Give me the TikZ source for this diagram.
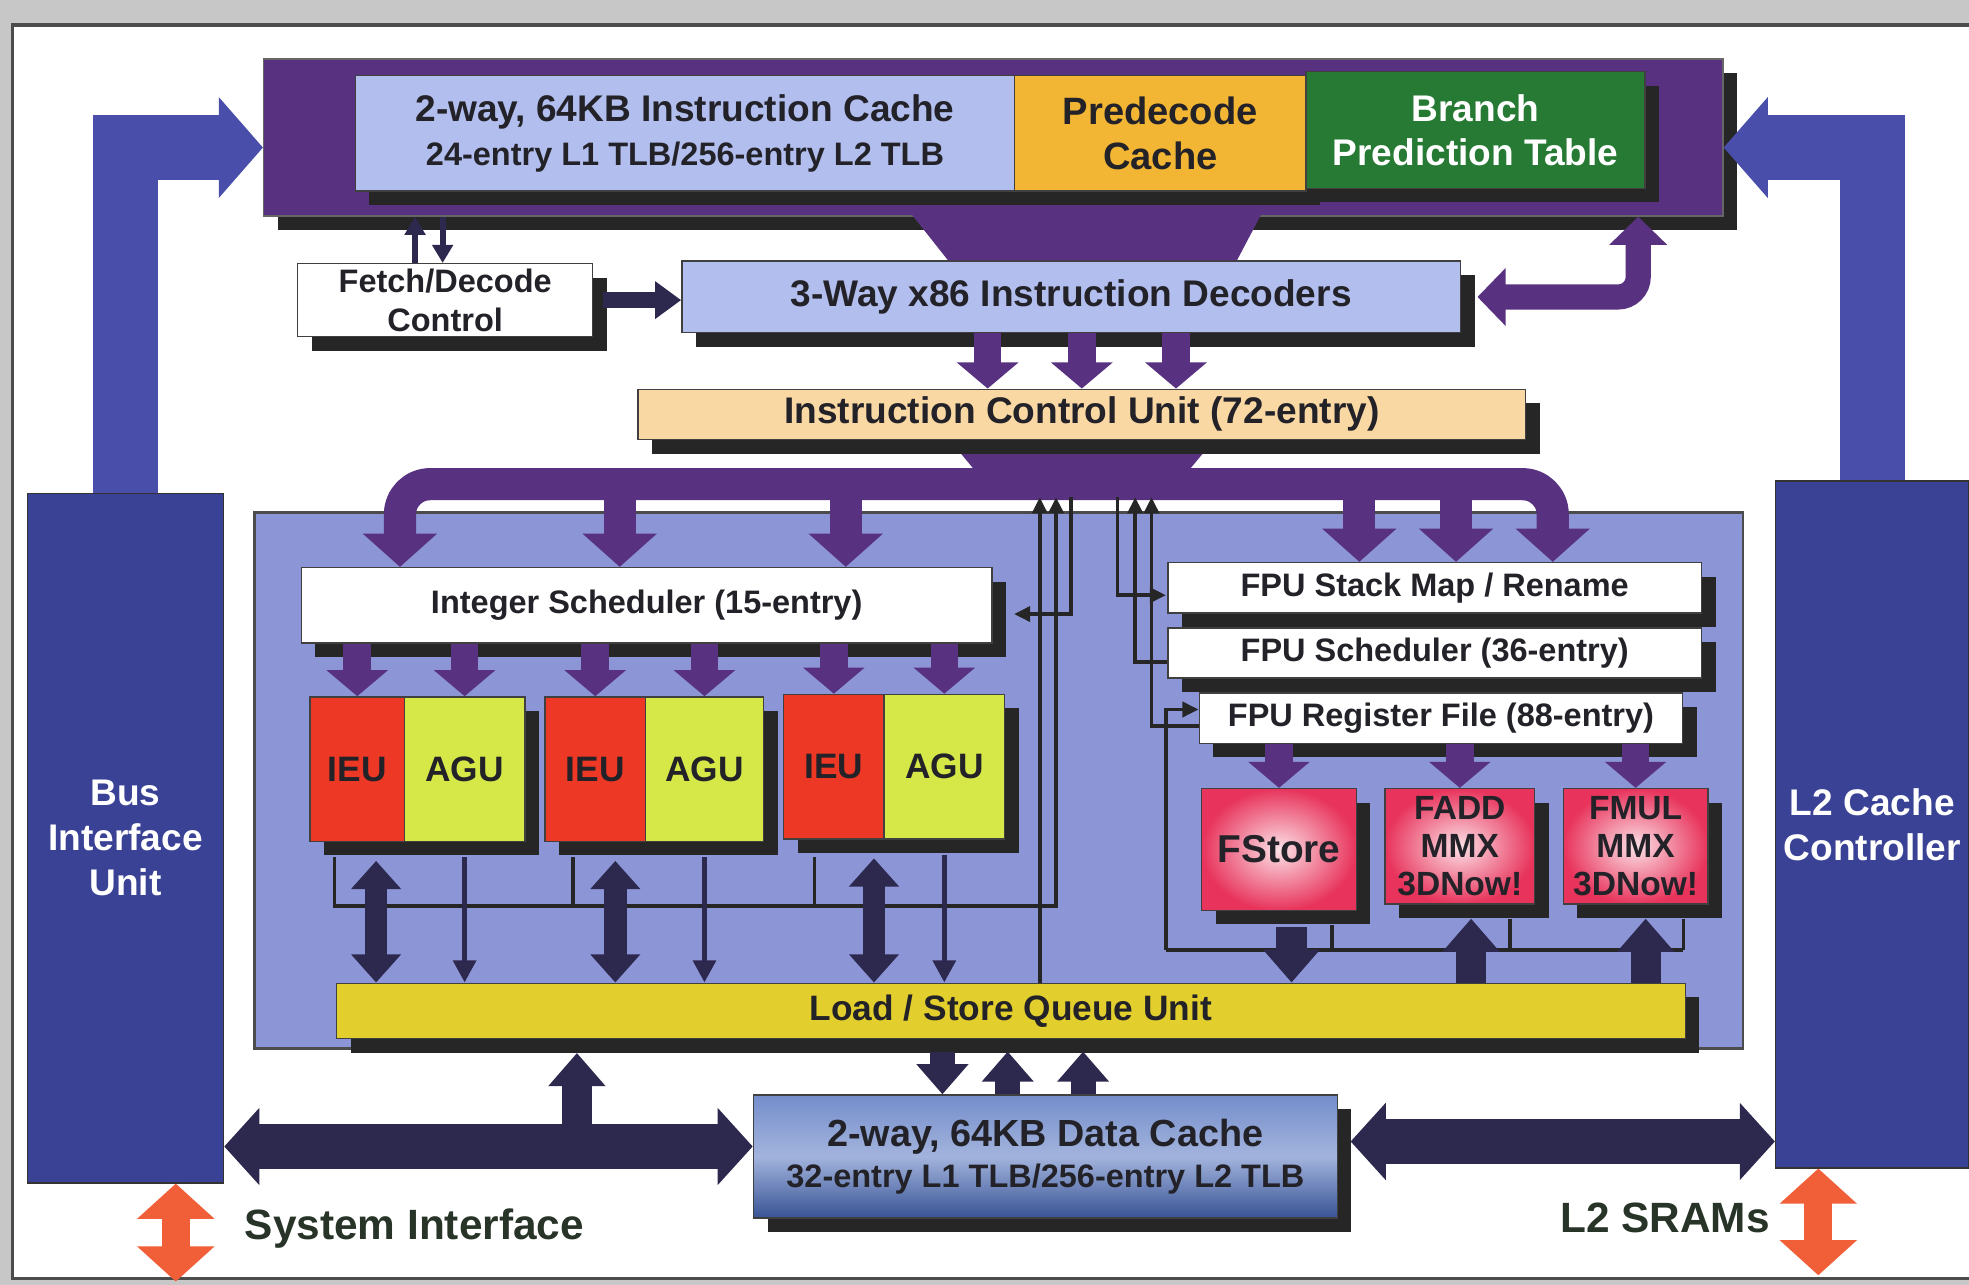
\documentclass[tikz,border=0pt]{standalone}
\usepackage{fontspec}
\setmainfont{Liberation Sans}
\usetikzlibrary{arrows.meta,calc,shadows}

\definecolor{icpurple}{RGB}{88,50,128}
\definecolor{bluebox}{RGB}{178,190,238}
\definecolor{corebg}{RGB}{140,150,215}
\definecolor{unitblue}{RGB}{58,66,150}
\definecolor{ltarrow}{RGB}{72,78,170}
\definecolor{predec}{RGB}{242,182,52}
\definecolor{bptgreen}{RGB}{38,122,52}
\definecolor{icupeach}{RGB}{250,216,164}
\definecolor{lsqyellow}{RGB}{226,206,44}
\definecolor{ieured}{RGB}{236,56,36}
\definecolor{agugreen}{RGB}{214,232,72}
\definecolor{fpred}{RGB}{232,52,92}
\definecolor{dcblue}{RGB}{70,104,186}
\definecolor{navyarrow}{RGB}{44,40,78}
\definecolor{sysorange}{RGB}{240,95,55}
\definecolor{txtdark}{RGB}{34,34,40}
\definecolor{notegreen}{RGB}{40,52,40}

\tikzset{
  box/.style={draw=black!75, line width=0.4pt, inner sep=0pt, align=center, text=txtdark,
    font=\bfseries\fontsize{10.5}{12.5}\selectfont},
  shbox/.style={box, drop shadow={shadow xshift=1.4mm, shadow yshift=-1.4mm, fill=black!85, opacity=1}},
  smallbox/.style={shbox, font=\bfseries\fontsize{9.2}{11}\selectfont},
  iobox/.style={box, fill=unitblue, draw=black!80, text=white, font=\bfseries\fontsize{10.5}{12.8}\selectfont},
  unit/.style={shbox, minimum height=14.375mm, font=\bfseries\fontsize{10}{11}\selectfont},
  fpunit/.style={shbox, inner color=fpred!15!white, outer color=fpred, font=\bfseries\fontsize{9.5}{10.7}\selectfont},
  core/.style={fill=corebg, draw=black!70, line width=0.8pt, inner sep=0pt},
  note/.style={font=\bfseries\fontsize{12}{14}\selectfont, text=notegreen},
  lblue/.style={draw=ltarrow, line width=6.5mm, line join=miter, -{Triangle[width=9.8mm,length=4.4mm]}},
  pblock/.style={draw=icpurple, line width=2.75mm, -{Triangle[width=6mm,length=2.6mm]}},
  pbig/.style={draw=icpurple, line width=3.2mm, line join=round, -{Triangle[width=7.2mm,length=3.3mm]}},
  pbus/.style={pbig, rounded corners=3mm, {Triangle[width=7.2mm,length=3.3mm]}-{Triangle[width=7.2mm,length=3.3mm]}},
  pboth/.style={draw=icpurple, line width=2.5mm, rounded corners=2mm, {Triangle[width=5.6mm,length=2.8mm]}-{Triangle[width=5.6mm,length=2.8mm]}},
  nboth/.style={draw=navyarrow, line width=2.25mm, {Triangle[width=4.8mm,length=2.8mm]}-{Triangle[width=4.8mm,length=2.8mm]}},
  nblock/.style={draw=navyarrow, line width=3mm, -{Triangle[width=5.5mm,length=3.3mm]}},
  nmid/.style={draw=navyarrow, line width=2.5mm, -{Triangle[width=5mm,length=3mm]}},
  ncon/.style={draw=navyarrow, line width=1.6mm, -{Triangle[width=3.6mm,length=2.6mm]}},
  tarrow/.style={draw=navyarrow, line width=0.55mm, -{Triangle[width=2.2mm,length=2.2mm]}},
  sarrow/.style={draw=navyarrow, line width=0.6mm, -{Triangle[width=2mm,length=1.8mm]}},
  bboth/.style={draw=navyarrow, line width=4.4mm, {Triangle[width=7.5mm,length=3.5mm]}-{Triangle[width=7.5mm,length=3.5mm]}},
  oboth/.style={draw=sysorange, line width=2.8mm, {Triangle[width=7.5mm,length=3.5mm]}-{Triangle[width=7.5mm,length=3.5mm]}},
  wire/.style={draw=black!85, line width=0.35mm},
  wtip/.tip={Triangle[width=1.5mm,length=1.6mm]}
}

\begin{document}
\begin{tikzpicture}[x=0.125mm,y=-0.125mm]
\useasboundingbox (0,0) rectangle (1568,1023);
% frame
\fill[black!22] (0,0) rectangle (1568,1023);
\fill[white] (10,20) rectangle (1568,1018);
\draw[black!70, line width=1pt] (1568,1018) -- (10,1018) -- (10,20) -- (1568,20);
% execution core
\node[core, minimum width=148.125mm, minimum height=53.375mm] (core) at (795.5,621.5) {};
% instruction cache band
\node[shbox, fill=icpurple, draw=black!60, minimum width=145.25mm, minimum height=15.625mm] (band) at (791,109.5) {};
\node[shbox, fill=bluebox, minimum width=65.625mm, minimum height=11.5mm] (icache) at (545.5,106) {2-way, 64KB Instruction Cache\\\fontsize{9.2}{11}\selectfont 24-entry L1 TLB/256-entry L2 TLB};
\node[shbox, fill=predec, minimum width=29mm, minimum height=11.5mm, font=\bfseries\fontsize{10.8}{12.8}\selectfont] (predecode) at (924,106) {Predecode\\Cache};
\node[shbox, fill=bptgreen, text=white, minimum width=33.75mm, minimum height=11.625mm] (bpt) at (1175,103.5) {Branch\\Prediction Table};
% bus interface / L2 controller
\node[iobox, minimum width=19.5mm, minimum height=68.625mm] (biu) at (100,667.5) {Bus\\Interface\\Unit};
\node[iobox, minimum width=19.25mm, minimum height=68.375mm] (l2) at (1491,656.5) {L2 Cache\\Controller};
\draw[lblue] (biu.north) |- ($(band.west)+(0,8)$);
\draw[lblue] (l2.north) |- ($(band.east)+(0,8)$);
% fetch / decode
\node[smallbox, fill=white, minimum width=29.375mm, minimum height=7.25mm] (fetch) at (354.5,239) {Fetch/Decode\\Control};
\node[shbox, fill=bluebox, minimum width=77.5mm, minimum height=7.125mm] (dec) at (853,236.5) {3-Way x86 Instruction Decoders};
\fill[icpurple] ($(dec.north)+(-128,-38)$) -- ($(dec.north)+(152,-38)$) -- ($(dec.north)+(132,0)$) -- ($(dec.north)+(-98,0)$) -- cycle;
\draw[sarrow] ($(fetch.north)+(-24,0)$) -- ($(fetch.north |- band.south)+(-24,0)$);
\draw[sarrow] ($(fetch.north |- band.south)+(-2,0)$) -- ($(fetch.north)+(-2,0)$);
\draw[ncon] ($(fetch.east)+(8,0)$) -- (fetch.east -| dec.west);
\coordinate (bptin) at ($(band.south east)+(-68,0)$);
\draw[pboth] ($(dec.east)+(13,0)$) -| (bptin);
% instruction control unit
\node[shbox, fill=icupeach, minimum width=88.375mm, minimum height=5mm] (icu) at (861.5,330) {Instruction Control Unit (72-entry)};
\foreach \dx in {-75,0,75}
  \draw[pblock] ($(dec.south -| icu.north)+(\dx,0)$) -- ($(icu.north)+(\dx,0)$);
\fill[icpurple] ($(icu.south)+(-96,11)$) -- ($(icu.south)+(96,11)$) -- ($(icu.south)+(72,40)$) -- ($(icu.south)+(-72,40)$) -- cycle;
% schedulers
\node[smallbox, fill=white, minimum width=68.75mm, minimum height=7.5mm] (isched) at (515,482) {Integer Scheduler (15-entry)};
\node[smallbox, fill=white, minimum width=53.125mm, minimum height=5mm] (fstack) at (1142.5,468) {FPU Stack Map / Rename};
\node[smallbox, fill=white, minimum width=53.125mm, minimum height=5mm] (fsched) at (1142.5,520) {FPU Scheduler (36-entry)};
\node[smallbox, fill=white, minimum width=48.125mm, minimum height=5mm] (fregs) at (1147.5,572) {FPU Register File (88-entry)};
% dispatch bus
\coordinate (busL) at ($(icu.south)+(-543,35)$);
\coordinate (busR) at ($(icu.south)+(375,35)$);
\draw[pbus] (isched.north -| busL) -- (busL) -- (busR) -- (fstack.north -| busR);
\foreach \dx in {175,355}
  \draw[pbig] ($(busL)+(\dx,0)$) -- ($(isched.north -| busL)+(\dx,0)$);
\foreach \dx in {-154,-77}
  \draw[pbig] ($(busR)+(\dx,0)$) -- ($(fstack.north -| busR)+(\dx,0)$);
% integer units
\node[unit, fill=ieured, minimum width=9.375mm] (ieua) at (284.5,612.5) {IEU};
\node[unit, fill=agugreen, minimum width=12mm] (agua) at (370,612.5) {AGU};
\node[unit, fill=ieured, minimum width=10mm] (ieub) at (474,612.5) {IEU};
\node[unit, fill=agugreen, minimum width=11.75mm] (agub) at (561,612.5) {AGU};
\node[unit, fill=ieured, minimum width=10mm] (ieuc) at (664,610.5) {IEU};
\node[unit, fill=agugreen, minimum width=12mm] (aguc) at (752,610.5) {AGU};
\foreach \u in {ieua,agua,ieub,agub,ieuc,aguc}
  \draw[pblock] (\u.north |- isched.south) -- (\u.north);
% floating point units
\node[fpunit, minimum width=15.375mm, minimum height=12.125mm, font=\bfseries\fontsize{11}{12}\selectfont] (fstore) at (1018.5,676.5) {FStore};
\node[fpunit, minimum width=14.875mm, minimum height=11.5mm] (fadd) at (1162.5,674) {FADD\\MMX\\3DNow!};
\node[fpunit, minimum width=14.375mm, minimum height=11.5mm] (fmul) at (1302.5,674) {FMUL\\MMX\\3DNow!};
\foreach \u in {fstore,fadd,fmul}
  \draw[pblock] (\u.north |- fregs.south) -- (\u.north);
% load/store and data cache
\node[shbox, fill=lsqyellow, minimum width=134.25mm, minimum height=5.5mm, font=\bfseries\fontsize{10}{12}\selectfont] (lsq) at (805,805) {Load / Store Queue Unit};
\node[shbox, top color=dcblue!75!white, bottom color=dcblue!80!black, middle color=dcblue!50!white, minimum width=58.125mm, minimum height=12.25mm, font=\bfseries\fontsize{10.7}{11.7}\selectfont] (dcache) at (832.5,921) {2-way, 64KB Data Cache\\\fontsize{9.2}{11}\selectfont 32-entry L1 TLB/256-entry L2 TLB};
% thin control wires
\foreach \n/\x in {ra/828,rb/841,ia/853,fa/890,fb/904,fc/917}
  \coordinate (\n) at (\x,396);
\draw[wire,-wtip] (lsq.north -| ra) -- (ra);
\coordinate (resbus) at ($(ieua.south west)+(20,51)$);
\draw[wire,-wtip] ($(ieua.south west)+(20,12)$) -- (resbus) -| (rb);
\draw[wire] ($(ieub.south west)+(23,12)$) -- ($(ieub.south west |- resbus)+(23,0)$);
\draw[wire] ($(ieuc.south west)+(25,14)$) -- ($(ieuc.south west |- resbus)+(25,0)$);
\draw[wire,-wtip] (ia) |- ($(isched.east)+(17,7)$);
\draw[wire,-wtip] (fa) |- ($(fstack.west)+(-1,6)$);
\draw[wire,-wtip] ($(fsched.west)+(0,7)$) -| (fb);
\draw[wire,-wtip] ($(fregs.west)+(0,6)$) -| (fc);
\coordinate (fpbus) at ($(fstore.south west)+(-28,31)$);
\draw[wire] (fpbus) -- ($(fpbus -| fmul.south east)+(-20,0)$);
\draw[wire,-wtip] (fpbus) |- ($(fregs.west)+(0,-7)$);
\foreach \u in {fstore,fadd,fmul}
  \draw[wire] ($(\u.south east)+(-20,11)$) -- ($(\u.south east |- fpbus)+(-20,0)$);
% unit to load/store arrows
\foreach \u/\dx in {ieua/15,ieub/16,ieuc/32}
  \draw[nboth] ($(\u.south)+(\dx,15)$) -- ($(\u.south |- lsq.north)+(\dx,0)$);
\foreach \u in {agua,agub,aguc}
  \draw[tarrow] ($(\u.south)+(0,12)$) -- (\u.south |- lsq.north);
\draw[nblock] ($(fstore.south)+(10,13)$) -- ($(fstore.south |- lsq.north)+(10,0)$);
\foreach \u/\dx in {fadd/9,fmul/8}
  \draw[nblock] ($(\u.south |- lsq.north)+(\dx,0)$) -- ($(\u.south)+(\dx,11)$);
% load/store to data cache
\draw[nmid] ($(dcache.north)+(-82,-34)$) -- ($(dcache.north)+(-82,0)$);
\foreach \dx in {-30,30}
  \draw[nmid] ($(dcache.north)+(\dx,0)$) -- ($(dcache.north)+(\dx,-34)$);
% system buses
\coordinate (sysbus) at ($(dcache.west)+(0,-8)$);
\draw[bboth] (biu.east |- sysbus) -- (sysbus);
\draw[nblock] ($(lsq.south west |- sysbus)+(192,0)$) -- ($(lsq.south west)+(192,11)$);
\coordinate (l2bus) at ($(dcache.east)+(0,-12)$);
\draw[bboth] ($(l2bus)+(10,0)$) -- (l2.west |- l2bus);
% external interfaces
\coordinate (sysio) at ($(biu.south)+(40,78)$);
\draw[oboth] ($(biu.south)+(40,0)$) -- (sysio);
\node[note] (sysif) at (330,978) {System Interface};
\coordinate (l2io) at ($(l2.south)+(-43,85)$);
\draw[oboth] ($(l2.south)+(-43,0)$) -- (l2io);
\node[note] (sram) at (1326,970) {L2 SRAMs};
\end{tikzpicture}
\end{document}
